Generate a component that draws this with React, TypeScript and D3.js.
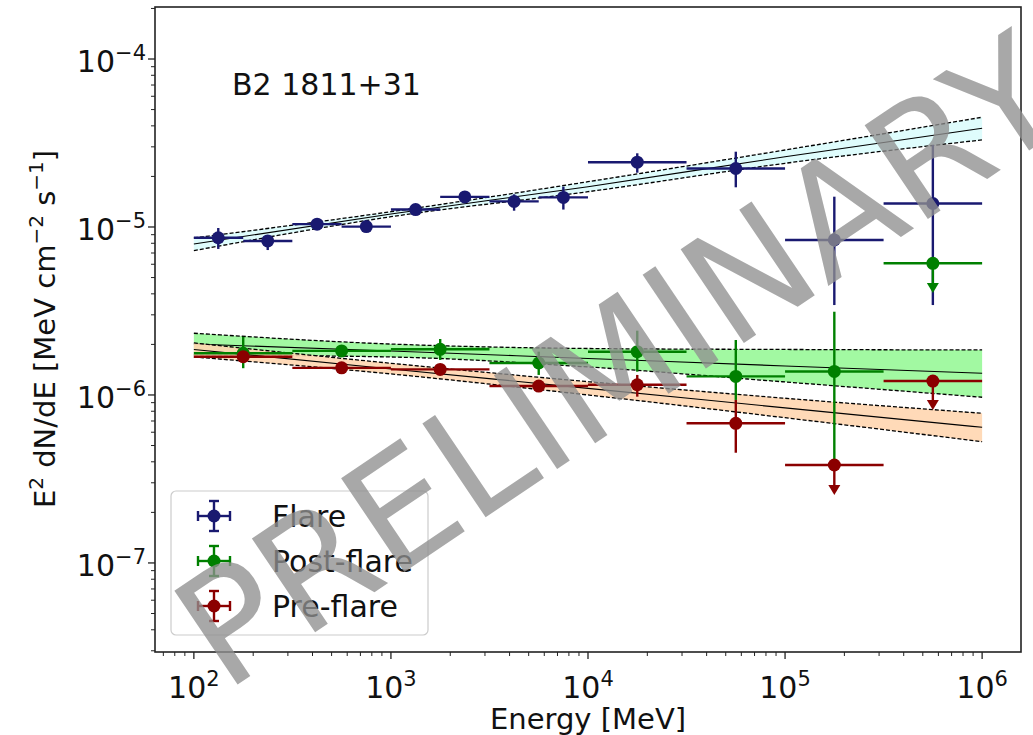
import React from "react";
import * as d3 from "d3";

const W = 1033;
const H = 735;

// axes domain (log-log)
const xDomain = [63.5, 1.575e6];
const yDomain = [2.95e-8, 2.04e-4];
const xMajor = [1e2, 1e3, 1e4, 1e5, 1e6];
const xExps = ["2", "3", "4", "5", "6"];
const yMajor = [1e-4, 1e-5, 1e-6, 1e-7];
const yExps = ["\u22124", "\u22125", "\u22126", "\u22127"];

// Flare SED: 0.25 dex bins up to 10 GeV, 0.5 dex above
const flareE = [133, 237, 422, 750, 1334, 2371, 4217, 7499, 17783, 56234, 177828, 562341];
const flareEmin = [100, 178, 316, 562, 1000, 1778, 3162, 5623, 10000, 31623, 100000, 316228];
const flareEmax = [178, 316, 562, 1000, 1778, 3162, 5623, 10000, 31623, 100000, 316228, 1000000];
const flareFlux = [8.63e-6, 8.26e-6, 1.04e-5, 1.005e-5, 1.27e-5, 1.51e-5, 1.42e-5, 1.5e-5, 2.43e-5, 2.23e-5, 8.37e-6, 1.38e-5];
const flareLo = [7.4e-6, 7.29e-6, 9.73e-6, 9.46e-6, 1.195e-5, 1.408e-5, 1.25e-5, 1.27e-5, 2.104e-5, 1.723e-5, 3.43e-6, 3.43e-6];
const flareHi = [9.86e-6, 8.96e-6, 1.116e-5, 1.071e-5, 1.371e-5, 1.638e-5, 1.565e-5, 1.737e-5, 2.746e-5, 2.807e-5, 1.515e-5, 3.08e-5];
const flareUL = [false, false, false, false, false, false, false, false, false, false, false, false];

// Post-flare and pre-flare: 0.5 dex bins
const binE = [178, 562, 1778, 5623, 17783, 56234, 177828, 562341];
const binEmin = [100, 316, 1000, 3162, 10000, 31623, 100000, 316228];
const binEmax = [316, 1000, 3162, 10000, 31623, 100000, 316228, 1000000];

const postFlux = [1.77e-6, 1.83e-6, 1.87e-6, 1.55e-6, 1.81e-6, 1.29e-6, 1.38e-6, 6.08e-6];
const postLo = [1.443e-6, 1.706e-6, 1.616e-6, 1.316e-6, 1.376e-6, 9.34e-7, 4.1e-7, 4.05e-6];
const postHi = [2.22e-6, 1.958e-6, 2.154e-6, 1.81e-6, 2.414e-6, 2.125e-6, 3.13e-6, 6.08e-6];
const postUL = [false, false, false, false, false, false, false, true];

const preFlux = [1.69e-6, 1.45e-6, 1.42e-6, 1.13e-6, 1.15e-6, 6.78e-7, 3.83e-7, 1.21e-6];
const preLo = [1.593e-6, 1.376e-6, 1.328e-6, 1.042e-6, 9.77e-7, 4.53e-7, 2.54e-7, 8.14e-7];
const preHi = [1.803e-6, 1.536e-6, 1.523e-6, 1.228e-6, 1.316e-6, 9.34e-7, 3.83e-7, 1.21e-6];
const preUL = [false, false, false, false, false, false, true, true];

// power-law fits with 1 sigma butterflies
const fitE = [1e2, 1e3, 1e4, 1e5, 1e6];
const flareFit = [7.92e-6, 1.195e-5, 1.737e-5, 2.62e-5, 3.87e-5];
const flareFitLo = [7.23e-6, 1.151e-5, 1.622e-5, 2.394e-5, 3.3e-5];
const flareFitHi = [8.6e-6, 1.233e-5, 1.86e-5, 2.873e-5, 4.5e-5];
const postFit = [2.01e-6, 1.827e-6, 1.649e-6, 1.488e-6, 1.346e-6];
const postFitLo = [1.73e-6, 1.683e-6, 1.468e-6, 1.195e-6, 9.69e-7];
const postFitHi = [2.33e-6, 2.01e-6, 1.891e-6, 1.866e-6, 1.853e-6];
const preFit = [1.866e-6, 1.428e-6, 1.095e-6, 8.38e-7, 6.42e-7];
const preFitLo = [1.683e-6, 1.334e-6, 1.0e-6, 7.32e-7, 5.27e-7];
const preFitHi = [2.04e-6, 1.544e-6, 1.2e-6, 9.56e-7, 7.78e-7];

const FONT = "'DejaVu Sans', sans-serif";

const x = d3.scaleLog().domain(xDomain).range([155, 1021]);
const y = d3.scaleLog().domain(yDomain).range([652, 7]);

function minorTicks(domain: number[]) {
  const out: number[] = [];
  const lo = Math.floor(Math.log10(domain[0]));
  const hi = Math.ceil(Math.log10(domain[1]));
  for (let e = lo; e < hi; e++) {
    for (let k = 2; k <= 9; k++) {
      const v = k * Math.pow(10, e);
      if (v > domain[0] && v < domain[1]) out.push(v);
    }
  }
  return out;
}

function Band({ fit, lo, hi, fill }: any) {
  const idx = d3.range(fitE.length);
  const area = d3
    .area<number>()
    .x((i) => x(fitE[i]))
    .y0((i) => y(lo[i]))
    .y1((i) => y(hi[i]))
    .curve(d3.curveMonotoneX);
  const line = (arr: number[]) =>
    d3
      .line<number>()
      .x((i) => x(fitE[i]))
      .y((i) => y(arr[i]))
      .curve(d3.curveMonotoneX)(idx) as string;
  return (
    <g>
      <path d={area(idx) as string} fill={fill} opacity={0.9} />
      <path d={line(fit)} fill="none" stroke="#000" strokeWidth={1.1} />
      <path d={line(lo)} fill="none" stroke="#000" strokeWidth={1.3} strokeDasharray="4,2" />
      <path d={line(hi)} fill="none" stroke="#000" strokeWidth={1.3} strokeDasharray="4,2" />
    </g>
  );
}

function Points({ E, Emin, Emax, flux, lo, hi, ul, color }: any) {
  return (
    <g>
      {E.map((e: number, i: number) => {
        const cx = x(e);
        const cy = y(flux[i]);
        return (
          <g key={i}>
            <line x1={x(Emin[i])} x2={x(Emax[i])} y1={cy} y2={cy} stroke={color} strokeWidth={2.4} />
            {ul[i] ? (
              <g>
                <line x1={cx} x2={cx} y1={cy} y2={y(lo[i]) - 6} stroke={color} strokeWidth={2.4} />
                <path
                  d={`M${cx - 6},${y(lo[i]) - 10}L${cx + 6},${y(lo[i]) - 10}L${cx},${y(lo[i])}Z`}
                  fill={color}
                />
              </g>
            ) : (
              <line x1={cx} x2={cx} y1={y(hi[i])} y2={y(lo[i])} stroke={color} strokeWidth={2.4} />
            )}
            <circle cx={cx} cy={cy} r={6.5} fill={color} />
          </g>
        );
      })}
    </g>
  );
}

const legendItems = [
  { label: "Flare", color: "#191970" },
  { label: "Post-flare", color: "#008000" },
  { label: "Pre-flare", color: "#8b0000" },
];

export default function App() {
  const xMinor = minorTicks(xDomain);
  const yMinor = minorTicks(yDomain);
  return (
    <svg
      width={W}
      height={H}
      style={{ position: "absolute", left: 0, top: 0, background: "#fff" }}
      fontFamily={FONT}
    >
      <rect x={0} y={0} width={W} height={H} fill="#fff" />

      {/* fits */}
      <Band fit={flareFit} lo={flareFitLo} hi={flareFitHi} fill="#dcfcfc" />
      <Band fit={postFit} lo={postFitLo} hi={postFitHi} fill="#98f898" />
      <Band fit={preFit} lo={preFitLo} hi={preFitHi} fill="#ffd6b0" />

      {/* data points */}
      <Points E={flareE} Emin={flareEmin} Emax={flareEmax} flux={flareFlux} lo={flareLo} hi={flareHi} ul={flareUL} color="#191970" />
      <Points E={binE} Emin={binEmin} Emax={binEmax} flux={postFlux} lo={postLo} hi={postHi} ul={postUL} color="#008000" />
      <Points E={binE} Emin={binEmin} Emax={binEmax} flux={preFlux} lo={preLo} hi={preHi} ul={preUL} color="#8b0000" />

      {/* frame */}
      <rect x={155} y={7} width={866} height={645} fill="none" stroke="#222" strokeWidth={1.6} />

      {/* x ticks */}
      {xMinor.map((v) => (
        <line key={"xm" + v} x1={x(v)} x2={x(v)} y1={652} y2={656} stroke="#222" strokeWidth={1} />
      ))}
      {xMajor.map((v, i) => (
        <g key={"xM" + v}>
          <line x1={x(v)} x2={x(v)} y1={652} y2={659} stroke="#222" strokeWidth={1.3} />
          <text x={x(v)} y={698} textAnchor="middle" fontSize={30} fill="#111">
            10<tspan dy={-12} fontSize={21}>{xExps[i]}</tspan>
          </text>
        </g>
      ))}

      {/* y ticks */}
      {yMinor.map((v) => (
        <line key={"ym" + v} x1={151} x2={155} y1={y(v)} y2={y(v)} stroke="#222" strokeWidth={1} />
      ))}
      {yMajor.map((v, i) => (
        <g key={"yM" + v}>
          <line x1={148} x2={155} y1={y(v)} y2={y(v)} stroke="#222" strokeWidth={1.3} />
          <text x={146} y={y(v) + 13} textAnchor="end" fontSize={30} fill="#111">
            10<tspan dy={-12} fontSize={21}>{yExps[i]}</tspan>
          </text>
        </g>
      ))}

      {/* axis labels */}
      <text x={588} y={729} textAnchor="middle" fontSize={29} fill="#111">
        Energy [MeV]
      </text>
      <text transform="translate(55,329) rotate(-90)" textAnchor="middle" fontSize={29} fill="#111">
        E<tspan dy={-12} fontSize={20}>2</tspan>
        <tspan dy={12}> dN/dE [MeV cm</tspan>
        <tspan dy={-12} fontSize={20}>{"\u22122"}</tspan>
        <tspan dy={12}> s</tspan>
        <tspan dy={-12} fontSize={20}>{"\u22121"}</tspan>
        <tspan dy={12}>]</tspan>
      </text>

      <text x={232} y={95} fontSize={30} fill="#111">
        B2 1811+31
      </text>

      {/* legend */}
      <rect x={171} y={491} width={257} height={144} rx={5} fill="#fff" fillOpacity={0.8} stroke="#ccc" strokeWidth={1.2} />
      {legendItems.map((d, i) => {
        const cy = 516 + i * 45;
        return (
          <g key={d.label}>
            <line x1={198} x2={230} y1={cy} y2={cy} stroke={d.color} strokeWidth={2.4} />
            <line x1={214} x2={214} y1={cy - 15} y2={cy + 15} stroke={d.color} strokeWidth={2.4} />
            <line x1={209} x2={219} y1={cy - 15} y2={cy - 15} stroke={d.color} strokeWidth={2.4} />
            <line x1={209} x2={219} y1={cy + 15} y2={cy + 15} stroke={d.color} strokeWidth={2.4} />
            <line x1={198} x2={198} y1={cy - 5} y2={cy + 5} stroke={d.color} strokeWidth={2.4} />
            <line x1={230} x2={230} y1={cy - 5} y2={cy + 5} stroke={d.color} strokeWidth={2.4} />
            <circle cx={214} cy={cy} r={6.5} fill={d.color} />
            <text x={272} y={cy + 11} fontSize={30} fill="#111">
              {d.label}
            </text>
          </g>
        );
      })}

      {/* watermark */}
      <text
        transform="translate(620,362) rotate(-34)"
        textAnchor="middle"
        dominantBaseline="central"
        fontSize={155}
        fill="#909090"
        fillOpacity={0.78}
      >
        PRELIMINARY
      </text>
    </svg>
  );
}
